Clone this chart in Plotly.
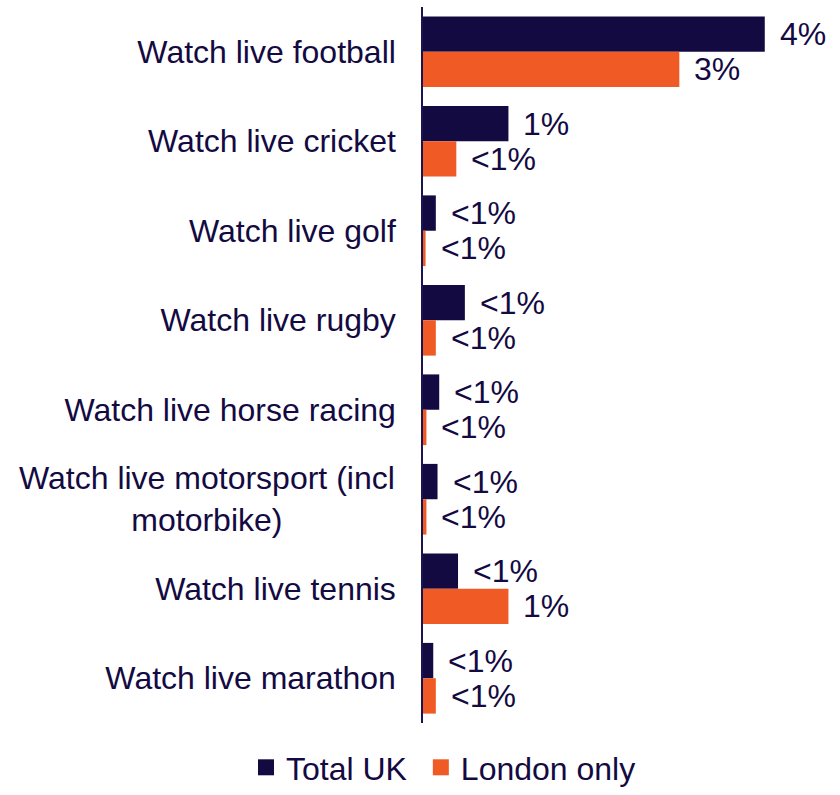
import plotly.graph_objects as go

# Share of adults doing each activity, Total UK vs London only (%)
categories = [
    "Watch live football",
    "Watch live cricket",
    "Watch live golf",
    "Watch live rugby",
    "Watch live horse racing",
    "Watch live motorsport (incl motorbike)",
    "Watch live tennis",
    "Watch live marathon",
]
total_uk = [4.0, 1.0, 0.15, 0.49, 0.19, 0.17, 0.41, 0.12]
london_only = [3.0, 0.39, 0.03, 0.15, 0.04, 0.04, 1.0, 0.15]
total_labels = ["4%", "1%", "<1%", "<1%", "<1%", "<1%", "<1%", "<1%"]
london_labels = ["3%", "<1%", "<1%", "<1%", "<1%", "<1%", "1%", "<1%"]
series_names = ["Total UK", "London only"]

# Wrapped category label drawn separately so its two lines stay centred
wrapped_label = {"Watch live motorsport (incl motorbike)": "Watch live motorsport (incl<br>motorbike)"}

NAVY = "#140A42"
ORANGE = "#EF5A25"
FONT = "Liberation Sans, Arial, sans-serif"
FS = 32

fig = go.Figure()
fig.add_trace(go.Bar(y=categories, x=total_uk, orientation="h", name=series_names[0],
                     marker=dict(color=NAVY, line=dict(width=0)), showlegend=False,
                     hoverinfo="x+y"))
fig.add_trace(go.Bar(y=categories, x=london_only, orientation="h", name=series_names[1],
                     marker=dict(color=ORANGE, line=dict(width=0)), showlegend=False,
                     hoverinfo="x+y"))

# Legend entries with square swatches (a trailing nbsp widens the gap between entries)
for name, col, pad in [(series_names[0], NAVY, "\u00a0"), (series_names[1], ORANGE, "")]:
    fig.add_trace(go.Scatter(x=[None], y=[None], mode="markers", name=name + pad,
                             marker=dict(symbol="square", size=16, color=col)))

annotations = []
bar_half = 17.7
for i, cat in enumerate(categories):
    annotations.append(dict(x=total_uk[i], y=cat, xref="x", yref="y", text=total_labels[i],
                            showarrow=False, xanchor="left", yanchor="middle",
                            xshift=13, yshift=bar_half,
                            font=dict(family=FONT, size=FS, color=NAVY)))
    annotations.append(dict(x=london_only[i], y=cat, xref="x", yref="y", text=london_labels[i],
                            showarrow=False, xanchor="left", yanchor="middle",
                            xshift=13, yshift=-bar_half,
                            font=dict(family=FONT, size=FS, color=NAVY)))

tick_text = []
for cat in categories:
    if cat in wrapped_label:
        tick_text.append("")
        annotations.append(dict(x=0, y=cat, xref="paper", yref="y", text=wrapped_label[cat],
                                showarrow=False, xanchor="right", yanchor="middle",
                                align="center", xshift=-26,
                                font=dict(family=FONT, size=FS, color=NAVY)))
    else:
        tick_text.append(cat)

fig.update_layout(
    width=840, height=795,
    margin=dict(l=423, r=12, t=7, b=72),
    paper_bgcolor="white", plot_bgcolor="white",
    barmode="group", bargap=0.21, bargroupgap=0,
    font=dict(family=FONT, size=FS, color=NAVY),
    xaxis=dict(range=[0, 4.74], visible=False, fixedrange=True),
    yaxis=dict(autorange="reversed", tickmode="array", tickvals=categories,
               ticktext=tick_text, showline=True, linecolor="#1c1450", linewidth=1.5,
               showgrid=False, zeroline=False, ticks="", ticklabelstandoff=19,
               tickfont=dict(family=FONT, size=FS, color=NAVY)),
    legend=dict(orientation="h", xref="container", yref="container",
                x=246 / 840, xanchor="left", y=-0.008, yanchor="bottom",
                font=dict(family=FONT, size=FS, color=NAVY),
                itemwidth=30, traceorder="normal"),
    annotations=annotations,
    showlegend=True,
)

fig.write_html("out.html")
